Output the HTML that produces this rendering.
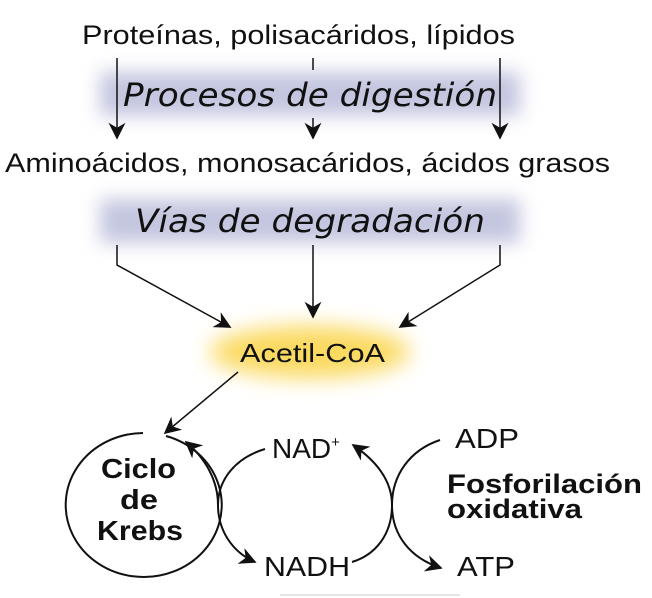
<!DOCTYPE html>
<html><head><meta charset="utf-8"><style>
html,body{margin:0;padding:0;background:#fff}
svg{display:block}
text{font-family:"Liberation Sans",sans-serif;fill:#111}
.it{font-family:"DejaVu Sans",sans-serif;font-style:italic}
</style></head><body>
<svg width="652" height="598" viewBox="0 0 652 598" xmlns="http://www.w3.org/2000/svg">
<defs>
<filter id="blur" x="-20%" y="-50%" width="140%" height="200%"><feGaussianBlur stdDeviation="9"/></filter>
<filter id="blur2" x="-50%" y="-50%" width="200%" height="200%"><feGaussianBlur stdDeviation="11"/></filter>
<marker id="ah2" viewBox="0 0 10 10" refX="9" refY="5" markerWidth="17" markerHeight="17" orient="auto" markerUnits="userSpaceOnUse"><path d="M0,0 L10,5 L0,10 L3,5 Z" fill="#111"/></marker>
</defs>
<rect x="100" y="72" width="420" height="44" fill="#c4c6e0" filter="url(#blur)"/>
<rect x="100" y="199" width="420" height="44" fill="#c4c6e0" filter="url(#blur)"/>
<ellipse cx="310" cy="352" rx="100" ry="26" fill="#fbd95e" filter="url(#blur2)"/>
<text x="82" y="44" font-size="27" textLength="433" lengthAdjust="spacingAndGlyphs">Proteínas, polisacáridos, lípidos</text>
<text x="123" y="106" font-size="32" class="it" textLength="374" lengthAdjust="spacingAndGlyphs">Procesos de digestión</text>
<text x="5" y="172" font-size="27" textLength="605" lengthAdjust="spacingAndGlyphs">Aminoácidos, monosacáridos, ácidos grasos</text>
<text x="135" y="232" font-size="32" class="it" textLength="350" lengthAdjust="spacingAndGlyphs">Vías de degradación</text>
<g stroke="#111" stroke-width="1.5" fill="none">
<line x1="117" y1="58" x2="117" y2="138" marker-end="url(#ah2)"/>
<line x1="500" y1="58" x2="500" y2="138" marker-end="url(#ah2)"/>
<line x1="313" y1="58" x2="313" y2="70"/>
<line x1="313" y1="118" x2="313" y2="138" marker-end="url(#ah2)"/>
<polyline points="117,245 117,265 230,327" marker-end="url(#ah2)"/>
<line x1="313" y1="245" x2="313" y2="317" marker-end="url(#ah2)"/>
<polyline points="500,245 500,265 400,327" marker-end="url(#ah2)"/>
<line x1="238" y1="372" x2="165" y2="433" marker-end="url(#ah2)"/>
<path d="M143,433 A78,72 0 1 0 166,436" stroke-width="2"/>
<g stroke-width="2">
<path d="M265,449 C235,458 218,480 218,505"/>
<path d="M218,505 C218,480 205,458 186,442" marker-end="url(#ah2)"/>
<path d="M218,505 C218,530 232,552 255,562" marker-end="url(#ah2)"/>
<path d="M392,505 C392,480 375,460 353,445" marker-end="url(#ah2)"/>
<path d="M440,440 C410,450 392,475 392,505"/>
<path d="M392,505 C392,535 410,558 441,568" marker-end="url(#ah2)"/>
<path d="M352,562 C375,555 392,535 392,505"/>
</g>
<line x1="280" y1="595" x2="460" y2="595" stroke="#ccc" stroke-width="1"/>
</g>
<text x="240" y="362" font-size="26" textLength="145" lengthAdjust="spacingAndGlyphs">Acetil-CoA</text>
<g font-weight="bold" font-size="28">
<text x="101" y="478" textLength="75" lengthAdjust="spacingAndGlyphs">Ciclo</text>
<text x="120" y="509" textLength="38" lengthAdjust="spacingAndGlyphs">de</text>
<text x="97" y="540" textLength="86" lengthAdjust="spacingAndGlyphs">Krebs</text>
</g>
<text x="272" y="458" font-size="28">NAD<tspan font-size="15" dy="-11">+</tspan></text>
<text x="264" y="576" font-size="28" textLength="86" lengthAdjust="spacingAndGlyphs">NADH</text>
<text x="455" y="448" font-size="28" textLength="64" lengthAdjust="spacingAndGlyphs">ADP</text>
<text x="457" y="576" font-size="28" textLength="58" lengthAdjust="spacingAndGlyphs">ATP</text>
<text x="447" y="493" font-size="27" font-weight="bold" textLength="195" lengthAdjust="spacingAndGlyphs">Fosforilación</text>
<text x="447" y="518" font-size="27" font-weight="bold" textLength="135" lengthAdjust="spacingAndGlyphs">oxidativa</text>
</svg>
</body></html>
